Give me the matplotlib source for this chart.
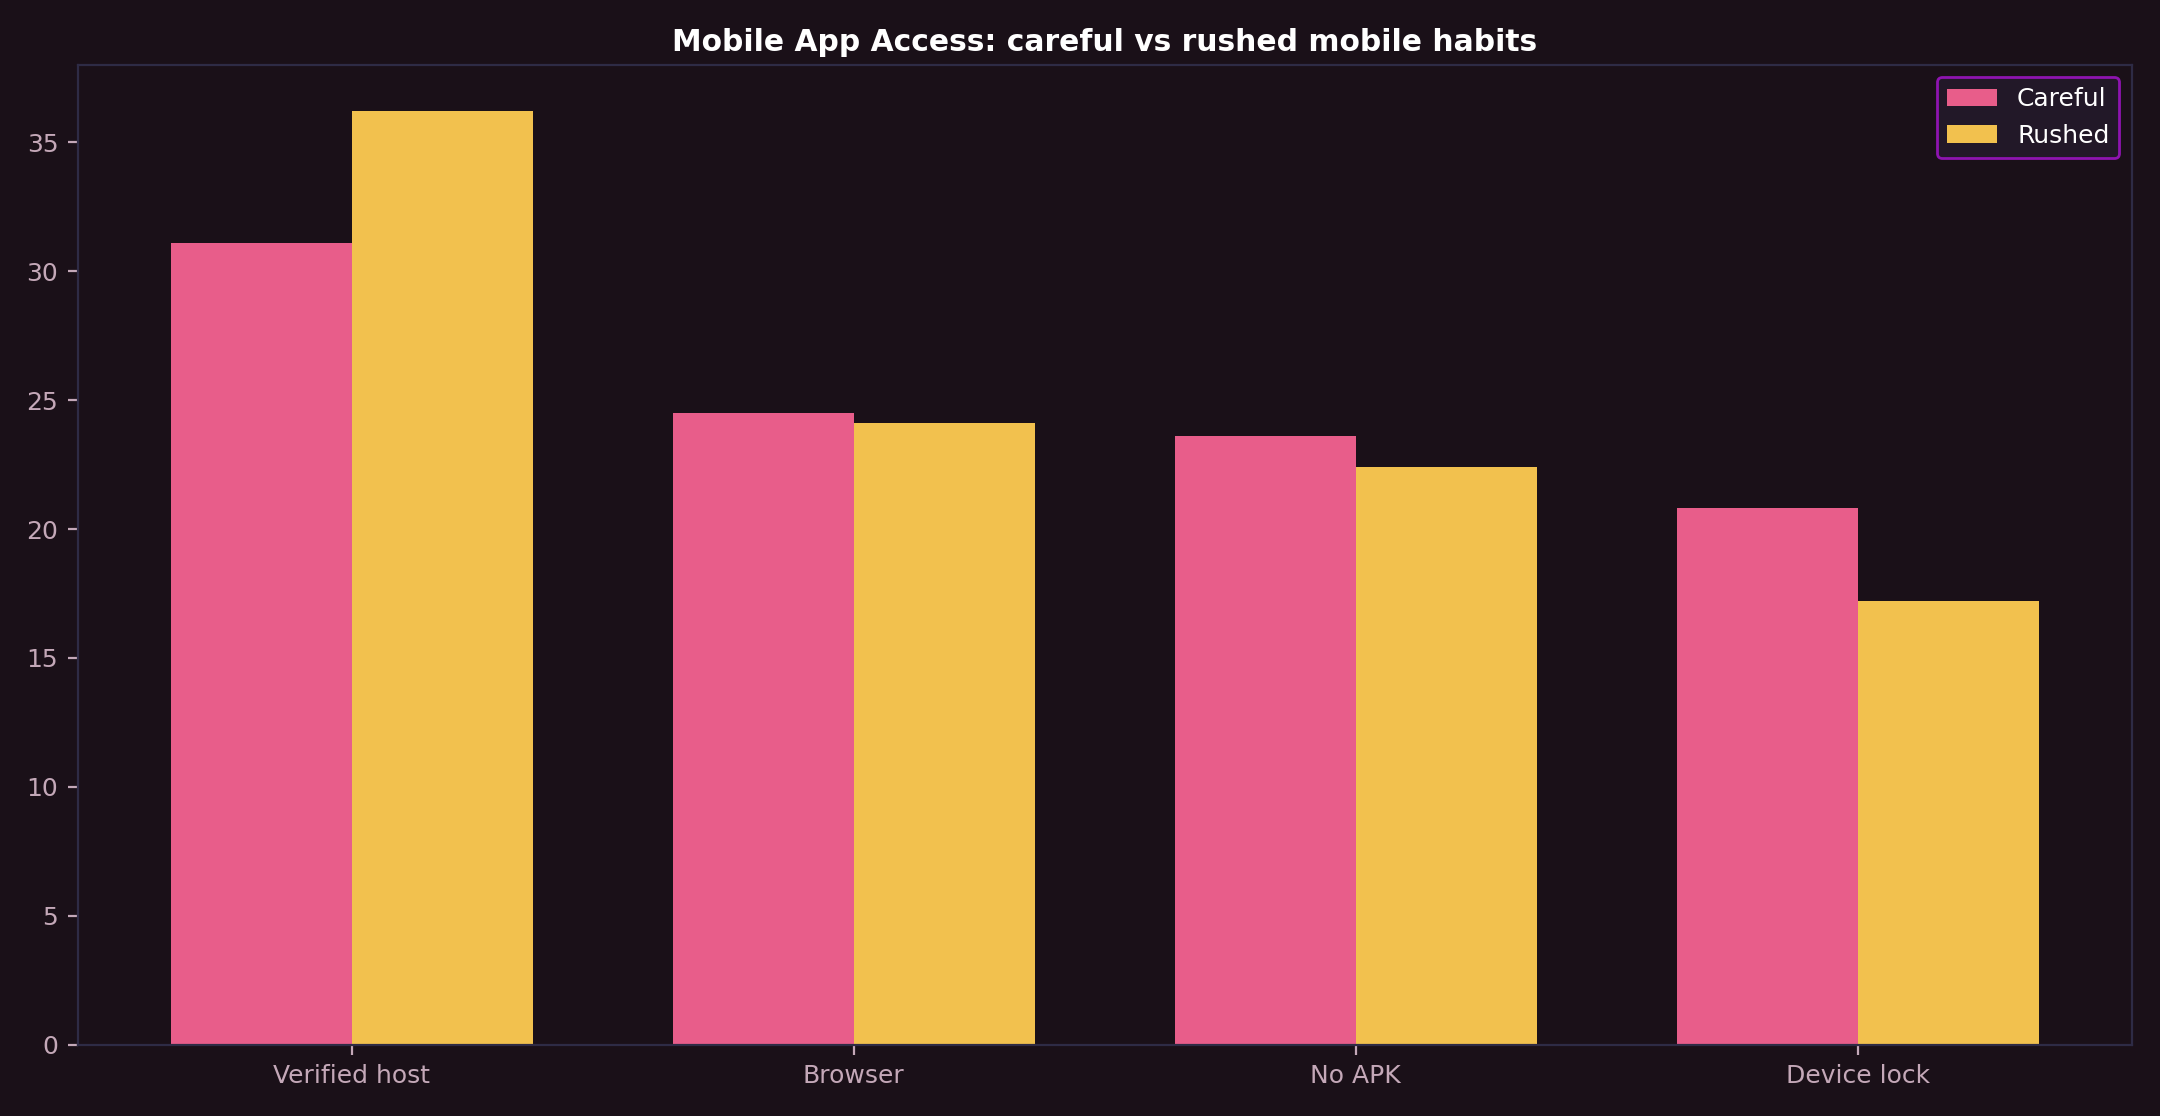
import matplotlib

matplotlib.use("Agg")
import matplotlib.pyplot as plt
import numpy as np

categories = ["Verified host", "Browser", "No APK", "Device lock"]
careful = [31.1, 24.5, 23.6, 20.8]
rushed = [36.2, 24.1, 22.4, 17.2]
series_names = ["Careful", "Rushed"]

bg = "#1a1018"
tick_color = "#c4a8b8"
spine_color = "#2e2b45"

fig, ax = plt.subplots(figsize=(10.8, 5.58), dpi=200)
fig.patch.set_facecolor(bg)
ax.set_facecolor(bg)

x = np.arange(len(categories))
width = 0.36
ax.bar(x - width / 2, careful, width, color="#e85d8a", label=series_names[0])
ax.bar(x + width / 2, rushed, width, color="#f2c14e", label=series_names[1])

ax.set_xticks(x)
ax.set_xticklabels(categories)
ax.set_ylim(0, max(careful + rushed) * 1.05)
ax.tick_params(colors=tick_color, labelsize=9)
for spine in ax.spines.values():
    spine.set_color(spine_color)

ax.set_title(
    "Mobile App Access: careful vs rushed mobile habits",
    color="white",
    fontsize=10.7,
    fontweight="bold",
    pad=5,
)
leg = ax.legend(facecolor="#221828", edgecolor="#8e14b0", fontsize=9, framealpha=1)
for text in leg.get_texts():
    text.set_color("white")

fig.subplots_adjust(left=0.036, right=0.987, top=0.942, bottom=0.064)
fig.savefig("out.png", dpi=200, facecolor=bg)
